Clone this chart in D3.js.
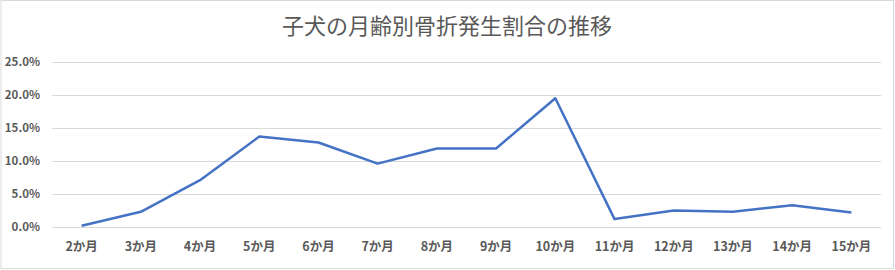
<!DOCTYPE html>
<html>
<head>
<meta charset="utf-8">
<script src="https://cdn.jsdelivr.net/npm/d3@7"></script>
<style>
    body { margin: 0; background: #fff; }
    svg { display: block; }
</style>
</head>
<body>
<svg id="chart" width="895" height="270"></svg>
<script>
const months = ["2か月", "3か月", "4か月", "5か月", "6か月", "7か月", "8か月", "9か月", "10か月", "11か月", "12か月", "13か月", "14か月", "15か月"];
const rates = [0.002, 0.023, 0.071, 0.137, 0.128, 0.096, 0.119, 0.119, 0.195, 0.012, 0.025, 0.023, 0.033, 0.022];
const yTicks = [0, 0.05, 0.10, 0.15, 0.20, 0.25];

const svg = d3.select("#chart");
const width = 895, height = 270;
const margin = {top: 62, right: 14, bottom: 43, left: 52};
const font = "'Noto Sans CJK JP', 'Noto Sans', sans-serif";

// outer frame
svg.append("rect")
    .attr("x", 1).attr("y", 0.5)
    .attr("width", width - 2.5).attr("height", height - 2)
    .attr("fill", "#fff")
    .attr("stroke", "#d9d9d9")
    .attr("stroke-width", 1);

svg.append("text")
    .attr("x", 447)
    .attr("y", 34)
    .attr("text-anchor", "middle")
    .attr("font-family", font)
    .attr("font-size", 22)
    .attr("fill", "#595959")
    .text("子犬の月齢別骨折発生割合の推移");

let x = d3.scaleBand().domain(months).range([margin.left, width - margin.right]);
let y = d3.scaleLinear().domain([0, 0.25]).range([height - margin.bottom, margin.top]);

// grid lines
svg.append("g")
    .selectAll("line")
    .data(yTicks)
    .join("line")
    .attr("x1", margin.left)
    .attr("x2", width - margin.right)
    .attr("y1", d => Math.round(y(d)) + 0.5)
    .attr("y2", d => Math.round(y(d)) + 0.5)
    .attr("stroke", "#d9d9d9")
    .attr("stroke-width", 1);

// y axis labels
let yAxis = svg.append("g")
    .attr("transform", `translate(${margin.left - 12},0)`)
    .call(d3.axisLeft(y).tickValues(yTicks).tickFormat(d3.format(".1%")).tickSize(0));
yAxis.select(".domain").remove();
yAxis.selectAll("text")
    .attr("font-family", font)
    .attr("font-size", 11.5)
    .attr("font-weight", "bold")
    .attr("fill", "#595959")
    .attr("x", 0);

// x axis labels
let xAxis = svg.append("g")
    .attr("transform", `translate(0,${height - margin.bottom})`)
    .call(d3.axisBottom(x).tickSize(0));
xAxis.select(".domain").remove();
xAxis.selectAll("text")
    .attr("font-family", font)
    .attr("font-size", 12.5)
    .attr("font-weight", "bold")
    .attr("fill", "#595959")
    .attr("y", 0)
    .attr("dy", "1.95em");

let line = d3.line()
    .x((d, i) => x(months[i]) + x.bandwidth() / 2)
    .y(d => y(d));

svg.append("path")
    .datum(rates)
    .attr("fill", "none")
    .attr("stroke", "#4472C4")
    .attr("stroke-width", 2.5)
    .attr("stroke-linejoin", "round")
    .attr("d", line);
</script>
</body>
</html>
